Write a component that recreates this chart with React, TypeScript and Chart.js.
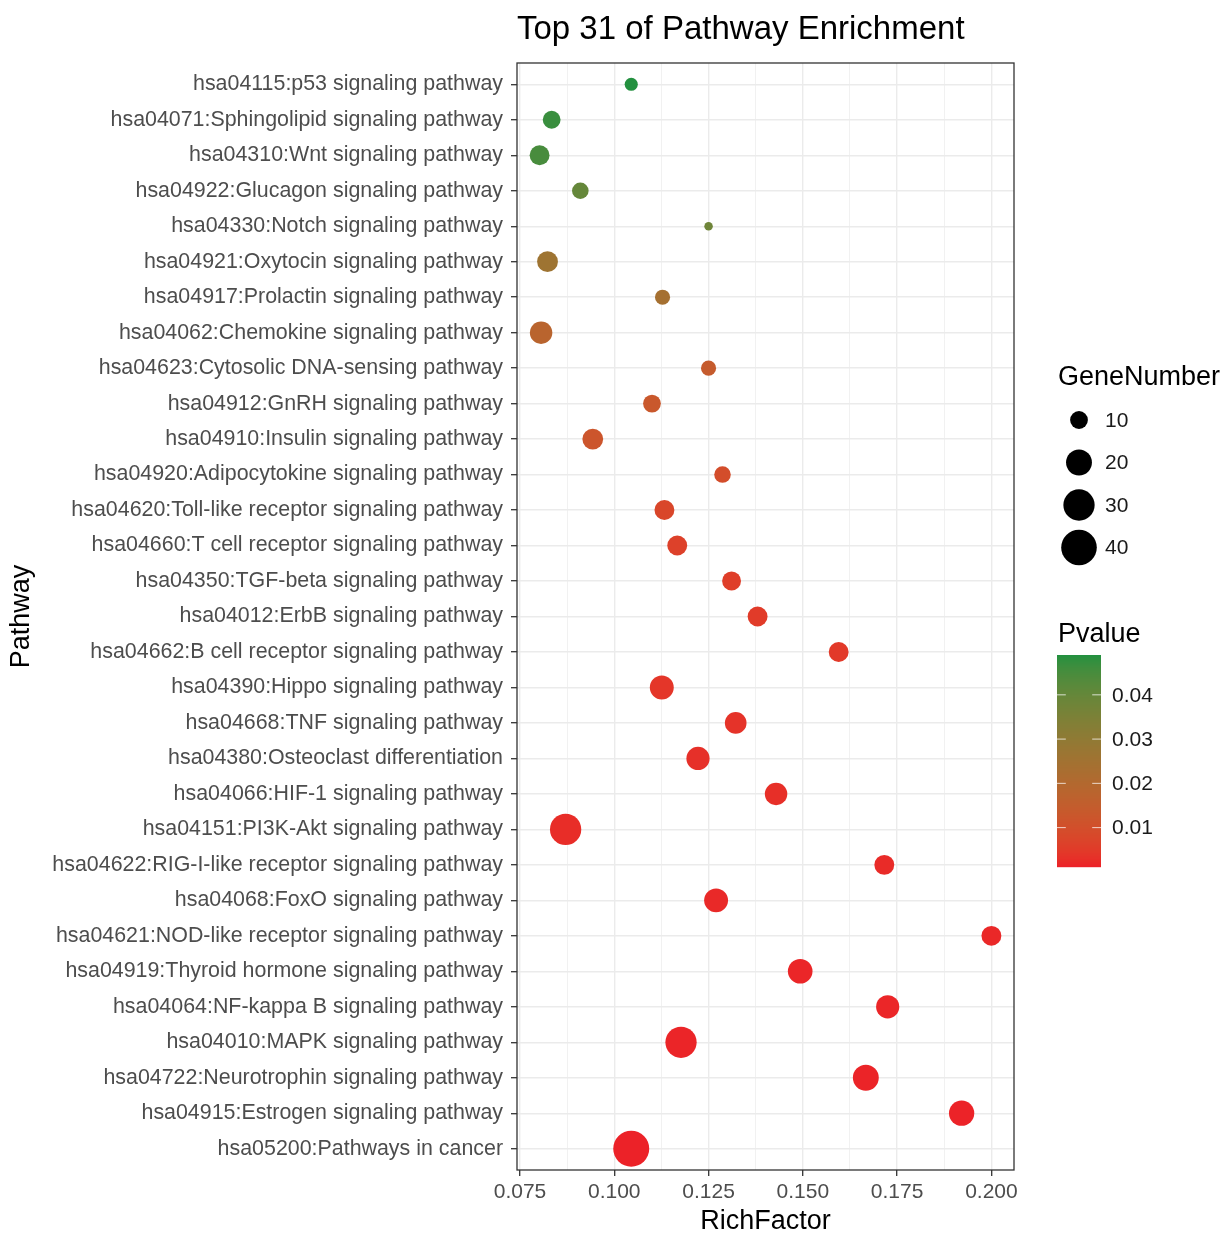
import React, { useEffect, useRef } from "react";
import { Chart, registerables } from "chart.js";

Chart.register(...registerables);

// ---------------- DATA ----------------
const pathways = [
  "hsa04115:p53 signaling pathway",
  "hsa04071:Sphingolipid signaling pathway",
  "hsa04310:Wnt signaling pathway",
  "hsa04922:Glucagon signaling pathway",
  "hsa04330:Notch signaling pathway",
  "hsa04921:Oxytocin signaling pathway",
  "hsa04917:Prolactin signaling pathway",
  "hsa04062:Chemokine signaling pathway",
  "hsa04623:Cytosolic DNA-sensing pathway",
  "hsa04912:GnRH signaling pathway",
  "hsa04910:Insulin signaling pathway",
  "hsa04920:Adipocytokine signaling pathway",
  "hsa04620:Toll-like receptor signaling pathway",
  "hsa04660:T cell receptor signaling pathway",
  "hsa04350:TGF-beta signaling pathway",
  "hsa04012:ErbB signaling pathway",
  "hsa04662:B cell receptor signaling pathway",
  "hsa04390:Hippo signaling pathway",
  "hsa04668:TNF signaling pathway",
  "hsa04380:Osteoclast differentiation",
  "hsa04066:HIF-1 signaling pathway",
  "hsa04151:PI3K-Akt signaling pathway",
  "hsa04622:RIG-I-like receptor signaling pathway",
  "hsa04068:FoxO signaling pathway",
  "hsa04621:NOD-like receptor signaling pathway",
  "hsa04919:Thyroid hormone signaling pathway",
  "hsa04064:NF-kappa B signaling pathway",
  "hsa04010:MAPK signaling pathway",
  "hsa04722:Neurotrophin signaling pathway",
  "hsa04915:Estrogen signaling pathway",
  "hsa05200:Pathways in cancer",
];

const richFactor = [
  0.1045, 0.0834, 0.0802, 0.091, 0.125, 0.0823, 0.1128, 0.0806, 0.125, 0.11,
  0.0943, 0.1287, 0.1133, 0.1167, 0.1311, 0.138, 0.1595, 0.1126, 0.1322, 0.1222,
  0.1429, 0.0871, 0.1716, 0.127, 0.2, 0.1493, 0.1725, 0.1177, 0.1667, 0.1921,
  0.1045,
];

const geneNumber = [
  7, 10, 12, 9, 6, 13, 8, 15, 8, 10, 13, 9, 12, 12, 11, 12, 12, 17, 14, 16, 15,
  30, 12, 17, 12, 18, 16, 30, 20, 19, 41,
];

const pValue = [
  0.049, 0.047, 0.045, 0.04, 0.038, 0.026, 0.024, 0.018, 0.014, 0.013, 0.012,
  0.0095, 0.0075, 0.0062, 0.0055, 0.005, 0.0045, 0.004, 0.0035, 0.003, 0.0028,
  0.0025, 0.0022, 0.002, 0.0018, 0.0016, 0.0015, 0.0014, 0.0013, 0.0012, 0.0011,
];

const xMajorTicks = [0.075, 0.1, 0.125, 0.15, 0.175, 0.2];
const sizeLegendValues = [10, 20, 30, 40];
const pLegendTicks = [0.01, 0.02, 0.03, 0.04];

const TITLE = "Top 31 of Pathway Enrichment";
const X_TITLE = "RichFactor";
const Y_TITLE = "Pathway";
const SIZE_TITLE = "GeneNumber";
const COLOR_TITLE = "Pvalue";

// ---------------- STYLE ----------------
const FONT = "'Liberation Sans', Arial, Helvetica, sans-serif";
const LOW_COLOR = "#EC2228";
const HIGH_COLOR = "#23903F";
const D_MIN = 8.5;
const D_MAX = 36;

// ---------------- HELPERS ----------------
function hexToRgb(h: string): number[] {
  const n = parseInt(h.slice(1), 16);
  return [(n >> 16) & 255, (n >> 8) & 255, n & 255];
}
function toLin(c: number) {
  c /= 255;
  return c <= 0.04045 ? c / 12.92 : Math.pow((c + 0.055) / 1.055, 2.4);
}
function fromLin(c: number) {
  const v = c <= 0.0031308 ? 12.92 * c : 1.055 * Math.pow(c, 1 / 2.4) - 0.055;
  return Math.round(Math.max(0, Math.min(1, v)) * 255);
}
function rgbToLab(rgb: number[]) {
  const R = toLin(rgb[0]), G = toLin(rgb[1]), B = toLin(rgb[2]);
  const X = (0.4124 * R + 0.3576 * G + 0.1805 * B) / 0.95047;
  const Y = 0.2126 * R + 0.7152 * G + 0.0722 * B;
  const Z = (0.0193 * R + 0.1192 * G + 0.9505 * B) / 1.08883;
  const f = (t: number) => (t > 0.008856 ? Math.cbrt(t) : 7.787 * t + 16 / 116);
  const fx = f(X), fy = f(Y), fz = f(Z);
  return [116 * fy - 16, 500 * (fx - fy), 200 * (fy - fz)];
}
function labToRgb(lab: number[]) {
  const fy = (lab[0] + 16) / 116;
  const fx = fy + lab[1] / 500;
  const fz = fy - lab[2] / 200;
  const inv = (t: number) => (t * t * t > 0.008856 ? t * t * t : (t - 16 / 116) / 7.787);
  const X = inv(fx) * 0.95047, Y = inv(fy), Z = inv(fz) * 1.08883;
  const R = 3.2406 * X - 1.5372 * Y - 0.4986 * Z;
  const G = -0.9689 * X + 1.8758 * Y + 0.0415 * Z;
  const B = 0.0557 * X - 0.204 * Y + 1.057 * Z;
  return [fromLin(R), fromLin(G), fromLin(B)];
}
const LOW_LAB = rgbToLab(hexToRgb(LOW_COLOR));
const HIGH_LAB = rgbToLab(hexToRgb(HIGH_COLOR));
const pMin = Math.min(...pValue);
const pMax = Math.max(...pValue);
function colorFor(p: number) {
  const t = Math.max(0, Math.min(1, (p - pMin) / (pMax - pMin)));
  const lab = [0, 1, 2].map((i) => LOW_LAB[i] + (HIGH_LAB[i] - LOW_LAB[i]) * t);
  const c = labToRgb(lab);
  return `rgb(${c[0]},${c[1]},${c[2]})`;
}
const nMin = Math.min(...geneNumber);
const nMax = Math.max(...geneNumber);
function radiusFor(n: number) {
  const t = Math.max(0, (n - nMin) / (nMax - nMin));
  return (D_MIN + (D_MAX - D_MIN) * Math.sqrt(t)) / 2;
}
const xDataMin = Math.min(...richFactor);
const xDataMax = Math.max(...richFactor);
const xPad = (xDataMax - xDataMin) * 0.05;

const isMajor = (v: number) => xMajorTicks.some((m) => Math.abs(m - v) < 1e-9);
const xAllTicks: number[] = [];
xMajorTicks.forEach((m, i) => {
  xAllTicks.push(m);
  if (i < xMajorTicks.length - 1) xAllTicks.push((m + xMajorTicks[i + 1]) / 2);
});

const decorPlugin = {
  id: "decor",
  afterDraw(chart: any) {
    const { ctx, chartArea: ca } = chart;
    ctx.save();
    // panel border
    ctx.strokeStyle = "#333333";
    ctx.lineWidth = 1.3;
    ctx.strokeRect(ca.left, ca.top, ca.right - ca.left, ca.bottom - ca.top);

    // title
    ctx.fillStyle = "#000";
    ctx.textBaseline = "middle";
    ctx.textAlign = "left";
    ctx.font = `33px ${FONT}`;
    ctx.fillText(TITLE, ca.left, 30);

    // x title
    ctx.textAlign = "center";
    ctx.font = `27px ${FONT}`;
    ctx.fillText(X_TITLE, (ca.left + ca.right) / 2, 1222);

    // y title
    ctx.save();
    ctx.translate(22, (ca.top + ca.bottom) / 2);
    ctx.rotate(-Math.PI / 2);
    ctx.fillText(Y_TITLE, 0, 0);
    ctx.restore();

    // size legend
    const lx = ca.right + 44;
    ctx.textAlign = "left";
    ctx.font = `27px ${FONT}`;
    ctx.fillText(SIZE_TITLE, lx, 378);
    ctx.font = `21px ${FONT}`;
    sizeLegendValues.forEach((v, i) => {
      const cy = 420 + i * 42.5;
      ctx.fillStyle = "#000";
      ctx.beginPath();
      ctx.arc(lx + 21, cy, radiusFor(v), 0, Math.PI * 2);
      ctx.fill();
      ctx.fillStyle = "#1a1a1a";
      ctx.fillText(String(v), lx + 47, cy + 1);
    });

    // color legend
    ctx.fillStyle = "#000";
    ctx.font = `27px ${FONT}`;
    ctx.fillText(COLOR_TITLE, lx, 635);
    const bx = lx - 1, bw = 44, by = 655, bh = 212;
    for (let y = 0; y < bh; y++) {
      const p = pMax - (y / (bh - 1)) * (pMax - pMin);
      ctx.fillStyle = colorFor(p);
      ctx.fillRect(bx, by + y, bw, 1.2);
    }
    ctx.font = `21px ${FONT}`;
    pLegendTicks.forEach((p) => {
      const y = by + bh - ((p - pMin) / (pMax - pMin)) * bh;
      ctx.strokeStyle = "rgba(255,255,255,0.75)";
      ctx.lineWidth = 1;
      ctx.beginPath();
      ctx.moveTo(bx, y);
      ctx.lineTo(bx + bw / 5, y);
      ctx.moveTo(bx + bw - bw / 5, y);
      ctx.lineTo(bx + bw, y);
      ctx.stroke();
      ctx.fillStyle = "#1a1a1a";
      ctx.fillText(p.toFixed(2), bx + 55, y + 1);
    });
    ctx.restore();
  },
};

export default function App() {
  const ref = useRef<HTMLCanvasElement | null>(null);
  useEffect(() => {
    if (!ref.current) return;
    const chart = new Chart(ref.current, {
      type: "bubble",
      data: {
        datasets: [
          {
            data: richFactor.map((x, i) => ({ x, y: i, r: radiusFor(geneNumber[i]) })),
            backgroundColor: pValue.map((p) => colorFor(p)),
            borderWidth: 0,
            hoverRadius: 0,
          } as any,
        ],
      },
      options: {
        responsive: false,
        animation: false,
        events: [],
        layout: { padding: { left: 0, right: 208, top: 63, bottom: 0 } },
        plugins: {
          legend: { display: false },
          tooltip: { enabled: false },
          title: { display: false },
        },
        scales: {
          x: {
            type: "linear",
            min: xDataMin - xPad,
            max: xDataMax + xPad,
            afterBuildTicks: (scale: any) => {
              scale.ticks = xAllTicks.map((v) => ({ value: v }));
            },
            afterFit: (scale: any) => {
              scale.height = 65;
            },
            border: { display: false },
            grid: {
              color: "#ebebeb",
              lineWidth: (c: any) => (isMajor(c.tick?.value) ? 1.4 : 0.7),
              tickColor: (c: any) => (isMajor(c.tick?.value) ? "#333333" : "rgba(0,0,0,0)"),
              tickWidth: 1.3,
              tickLength: 6,
              drawTicks: true,
            },
            ticks: {
              autoSkip: false,
              maxRotation: 0,
              padding: 4,
              color: "#4d4d4d",
              font: { family: FONT, size: 21 },
              callback: (v: any) => (isMajor(Number(v)) ? Number(v).toFixed(3) : ""),
            },
          },
          y: {
            type: "linear",
            reverse: true,
            min: -0.6,
            max: pathways.length - 1 + 0.6,
            afterBuildTicks: (scale: any) => {
              scale.ticks = pathways.map((_, i) => ({ value: i }));
            },
            afterFit: (scale: any) => {
              scale.width = 517;
            },
            border: { display: false },
            grid: {
              color: "#ebebeb",
              lineWidth: 1.4,
              tickColor: "#333333",
              tickWidth: 1.3,
              tickLength: 6,
              drawTicks: true,
            },
            ticks: {
              autoSkip: false,
              padding: 8,
              color: "#4d4d4d",
              font: { family: FONT, size: 21.4 },
              callback: (v: any) => pathways[Math.round(Number(v))] ?? "",
            },
          },
        },
      },
      plugins: [decorPlugin],
    } as any);
    return () => chart.destroy();
  }, []);
  return (
    <div style={{ position: "absolute", left: 0, top: 0, width: 1222, height: 1235, background: "#fff" }}>
      <canvas ref={ref} width={1222} height={1235} style={{ width: 1222, height: 1235, display: "block" }} />
    </div>
  );
}
